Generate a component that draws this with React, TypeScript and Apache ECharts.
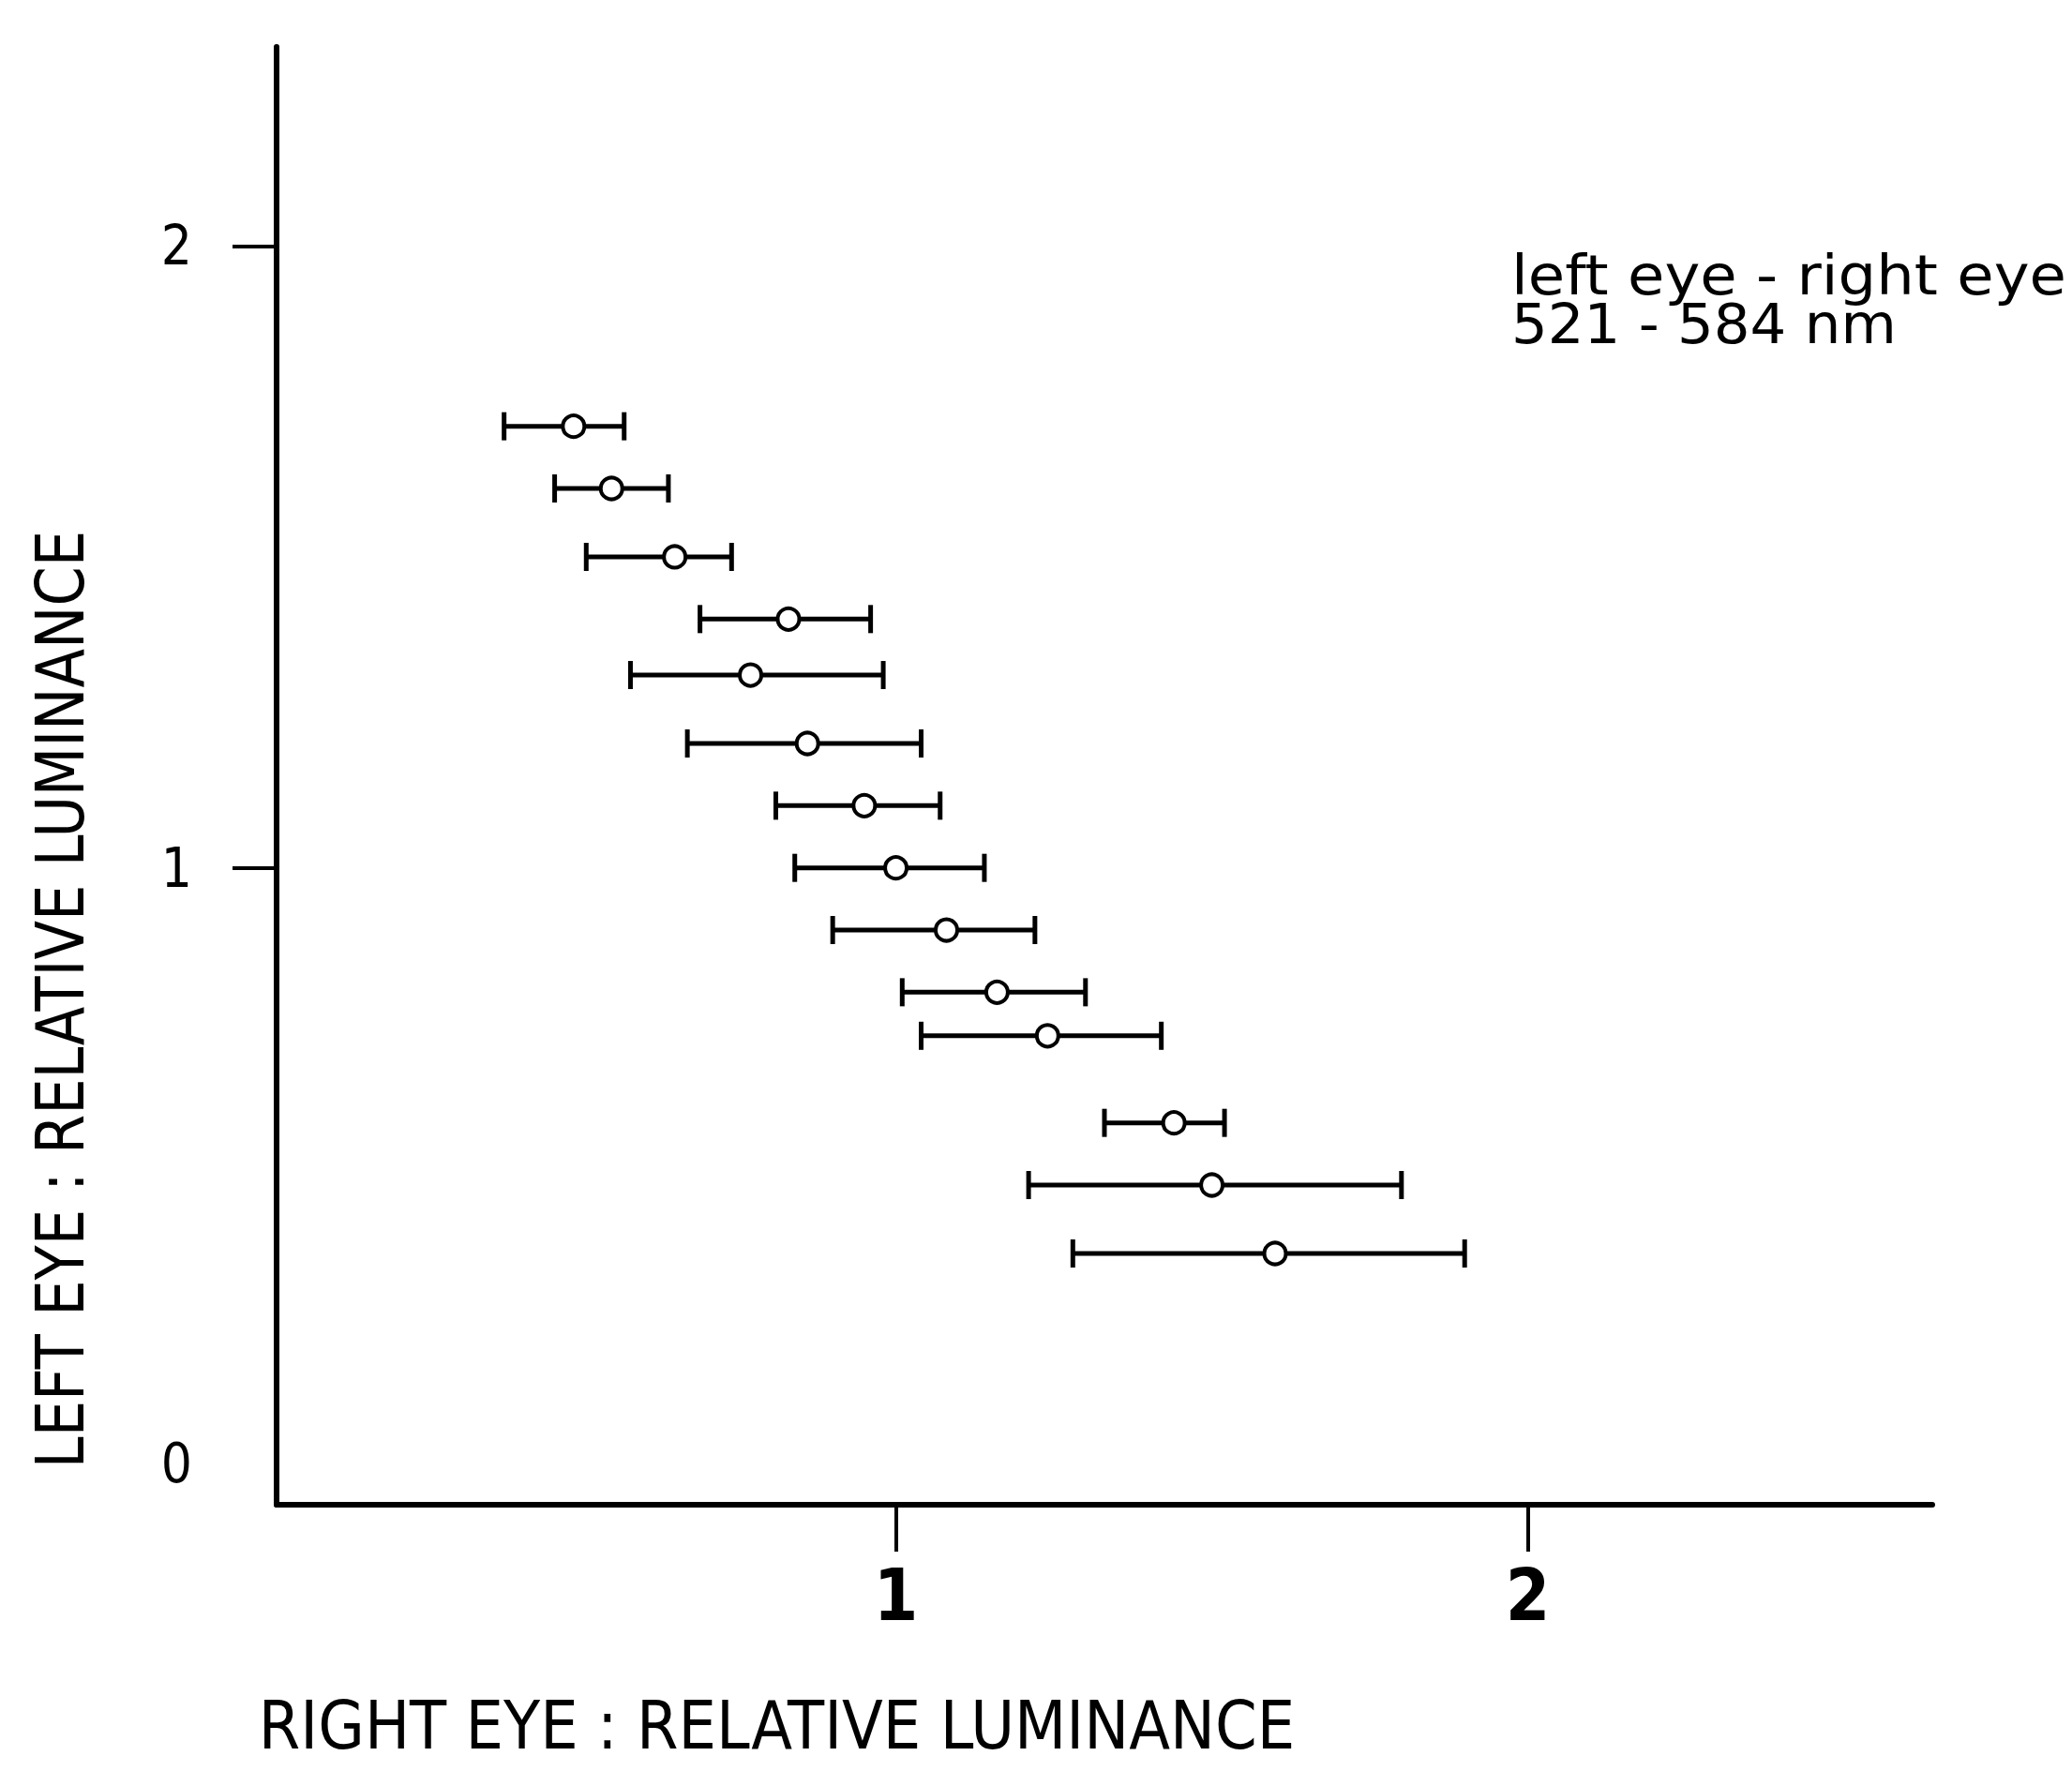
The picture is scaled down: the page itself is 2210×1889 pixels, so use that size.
import React, { useEffect, useRef } from "react";
import * as echarts from "echarts";

// Left-eye relative luminance (y) for each matching
const leftEye = [1.71, 1.61, 1.5, 1.4, 1.31, 1.2, 1.1, 1.0, 0.9, 0.8, 0.73, 0.59, 0.49, 0.38];
// Right-eye relative luminance: mean and range
const rightMean = [0.49, 0.55, 0.65, 0.83, 0.77, 0.86, 0.95, 1.0, 1.08, 1.16, 1.24, 1.44, 1.5, 1.6];
const rightLow = [0.38, 0.46, 0.51, 0.69, 0.58, 0.67, 0.81, 0.84, 0.9, 1.01, 1.04, 1.33, 1.21, 1.28];
const rightHigh = [0.57, 0.64, 0.74, 0.96, 0.98, 1.04, 1.07, 1.14, 1.22, 1.3, 1.42, 1.52, 1.8, 1.9];

const xTicks = [1, 2];
const yTicks = [1, 2];
const yTickLabels = [0, 1, 2];

const xName = "RIGHT EYE : RELATIVE LUMINANCE";
const yName = "LEFT EYE : RELATIVE LUMINANCE";
const noteLine1 = "left eye - right eye";
const noteLine2 = "521 - 584 nm";

const LABEL_FONT = "'DejaVu Sans Condensed', 'Liberation Sans Narrow', 'DejaVu Sans', sans-serif";

function fitScale(text: string, font: string, width: number): number {
  const ctx = document.createElement("canvas").getContext("2d");
  if (!ctx) return 1;
  ctx.font = font;
  const w = ctx.measureText(text).width;
  return w > 0 ? width / w : 1;
}

export default function App() {
  const ref = useRef<HTMLDivElement>(null);

  useEffect(() => {
    if (!ref.current) return;
    const chart = echarts.init(ref.current, undefined, { renderer: "svg" });

    const barData = leftEye.map((y, i) => [rightLow[i], rightHigh[i], y, rightMean[i]]);
    const pointData = leftEye.map((y, i) => [rightMean[i], y]);

    const nameFont = "72px DejaVu Sans";
    const noteFont = "58px DejaVu Sans";
    const sxX = fitScale(xName, nameFont, 1105);
    const sxY = fitScale(yName, nameFont, 1000);
    const sN1 = fitScale(noteLine1, noteFont, 592);
    const sN2 = fitScale(noteLine2, noteFont, 411);

    chart.setOption({
      animation: false,
      backgroundColor: "#ffffff",
      grid: { left: 295, right: 149, top: 50, bottom: 284, containLabel: false },
      xAxis: {
        type: "value",
        min: 0.02,
        max: 2.64,
        splitLine: { show: false },
        axisLine: { show: true, onZero: false, lineStyle: { color: "#000", width: 6 } },
        axisTick: { show: true, customValues: xTicks, length: 50, lineStyle: { color: "#000", width: 4 } },
        axisLabel: {
          show: true,
          customValues: xTicks,
          margin: 58,
          fontSize: 76,
          fontWeight: "bold",
          color: "#000",
          fontFamily: LABEL_FONT,
        },
      },
      yAxis: {
        type: "value",
        min: -0.024,
        max: 2.32,
        splitLine: { show: false },
        axisLine: { show: true, onZero: false, lineStyle: { color: "#000", width: 6 } },
        axisTick: { show: true, customValues: yTicks, length: 47, lineStyle: { color: "#000", width: 4 } },
        axisLabel: {
          show: true,
          customValues: yTickLabels,
          margin: 90,
          fontSize: 58,
          color: "#000",
          fontFamily: LABEL_FONT,
          formatter: (v: number) => (v === 0 ? "{z|0}" : String(v)),
          rich: {
            z: { fontSize: 58, color: "#000", fontFamily: LABEL_FONT, padding: [0, 0, 56, 0] },
          },
        },
      },
      series: [
        {
          type: "custom",
          data: barData,
          encode: { x: [0, 1, 3], y: 2 },
          z: 2,
          renderItem: (params: any, api: any) => {
            const y = api.value(2);
            const p1 = api.coord([api.value(0), y]);
            const p2 = api.coord([api.value(1), y]);
            const cap = 15;
            return {
              type: "group",
              children: [
                { type: "line", shape: { x1: p1[0], y1: p1[1], x2: p2[0], y2: p2[1] }, style: { stroke: "#000", lineWidth: 5 } },
                { type: "line", shape: { x1: p1[0], y1: p1[1] - cap, x2: p1[0], y2: p1[1] + cap }, style: { stroke: "#000", lineWidth: 5 } },
                { type: "line", shape: { x1: p2[0], y1: p2[1] - cap, x2: p2[0], y2: p2[1] + cap }, style: { stroke: "#000", lineWidth: 5 } },
              ],
            };
          },
        },
        {
          type: "scatter",
          data: pointData,
          symbol: "circle",
          symbolSize: 23,
          z: 3,
          itemStyle: { color: "#fff", borderColor: "#000", borderWidth: 4, opacity: 1 },
        },
      ],
      graphic: [
        {
          type: "text",
          x: 276 + 1105 / 2,
          y: 1840,
          scaleX: sxX,
          style: { text: xName, font: nameFont, fill: "#000", align: "center", verticalAlign: "middle", textAlign: "center", textVerticalAlign: "middle" },
        },
        {
          type: "text",
          x: 64,
          y: 1066,
          rotation: Math.PI / 2,
          scaleX: sxY,
          style: { text: yName, font: nameFont, fill: "#000", align: "center", verticalAlign: "middle", textAlign: "center", textVerticalAlign: "middle" },
        },
        {
          type: "text",
          x: 1612,
          y: 294,
          scaleX: sN1,
          style: { text: noteLine1, font: noteFont, fill: "#000", align: "left", verticalAlign: "middle", textAlign: "left", textVerticalAlign: "middle" },
        },
        {
          type: "text",
          x: 1612,
          y: 346,
          scaleX: sN2,
          style: { text: noteLine2, font: noteFont, fill: "#000", align: "left", verticalAlign: "middle", textAlign: "left", textVerticalAlign: "middle" },
        },
      ],
    });

    return () => {
      chart.dispose();
    };
  }, []);

  return (
    <div
      ref={ref}
      style={{ position: "absolute", left: 0, top: 0, width: 2210, height: 1889, background: "#fff" }}
    />
  );
}
